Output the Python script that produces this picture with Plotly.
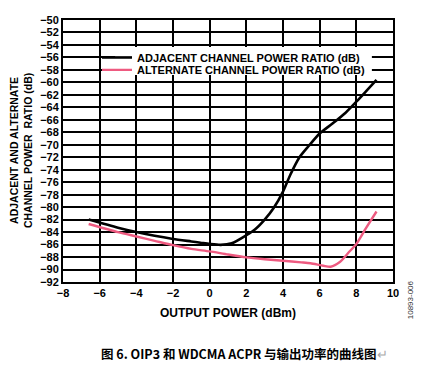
import plotly.graph_objects as go

# Data
adj_x = [-6.6, -5, -4, -3, -2, -1, -0.5, 0, 0.6, 1.2, 2, 2.5, 3, 3.5, 4, 4.4, 4.9, 5.4, 6, 6.7, 7.4, 8, 8.6, 9.1]
adj_y = [-82.0, -83.3, -84.0, -84.6, -85.1, -85.5, -85.7, -85.9, -86.05, -85.8, -84.5, -83.5, -82.0, -80.1,
         -77.5, -74.8, -72.0, -70.2, -68.2, -66.6, -64.9, -63.1, -61.2, -59.6]
alt_x = [-6.6, -5, -4, -3, -2, -1, 0, 1, 2, 3, 4, 5, 5.5, 6.2, 6.6, 7.1, 7.6, 8, 8.5, 9.1]
alt_y = [-82.7, -84.0, -84.7, -85.4, -86.1, -86.7, -87.1, -87.6, -88.05, -88.35, -88.6, -88.85, -89.0, -89.4,
         -89.55, -88.8, -87.2, -85.9, -83.5, -80.7]
x_ticks = [-8, -6, -4, -2, 0, 2, 4, 6, 8, 10]
y_ticks = list(range(-92, -49, 2))

series_names = ["ADJACENT CHANNEL POWER RATIO (dB)", "ALTERNATE CHANNEL POWER RATIO (dB)"]
x_title = "OUTPUT POWER (dBm)"
y_title = "ADJACENT AND ALTERNATE<br>CHANNEL POWER  RATIO (dB)"
caption = "图 6. OIP3 和 WDCMA ACPR 与输出功率的曲线图"
code = "10893-006"

FONT = "Liberation Sans, Arial, sans-serif"


def fmt(v):
    return str(v).replace("-", "\u2212")


fig = go.Figure()
fig.add_trace(go.Scatter(x=adj_x, y=adj_y, mode="lines", name=series_names[0], legend="legend",
                         line=dict(color="black", width=2.6, shape="spline", smoothing=0.7)))
fig.add_trace(go.Scatter(x=alt_x, y=alt_y, mode="lines", name=series_names[1], legend="legend2",
                         line=dict(color="#EE5A80", width=2.4, shape="spline", smoothing=0.7)))

axis_common = dict(showgrid=True, gridcolor="black", gridwidth=1.8,
                   showline=True, linecolor="black", linewidth=2, mirror=True,
                   zeroline=False, ticks="", automargin=False,
                   tickfont=dict(family=FONT, size=11, color="black", weight="bold"))

fig.update_xaxes(range=[-8, 10], tickvals=x_ticks, ticktext=[fmt(v) for v in x_ticks], **axis_common)
fig.update_yaxes(range=[-92, -50], tickvals=y_ticks, ticktext=[fmt(v) for v in y_ticks], **axis_common)

legend_font = dict(family=FONT, size=11, color="black", weight="bold")

# The page body has an 8px margin, so the figure is sized/offset to compensate
fig.update_layout(
    width=414, height=367,
    margin=dict(l=55, r=29, t=12, b=93),
    paper_bgcolor="white", plot_bgcolor="white",
    showlegend=True,
    legend=dict(x=0.103, y=0.857, xanchor="left", yanchor="middle",
                bgcolor="rgba(0,0,0,0)", borderwidth=0, font=legend_font),
    legend2=dict(x=0.103, y=0.8095, xanchor="left", yanchor="middle",
                 bgcolor="rgba(0,0,0,0)", borderwidth=0, font=legend_font),
    shapes=[
        # white background box behind the legend entries
        dict(type="rect", xref="paper", yref="paper", x0=0.158, x1=0.936, y0=0.79, y1=0.897,
             fillcolor="white", line=dict(width=0), layer="above"),
    ],
    annotations=[
        dict(text=y_title, x=-0.127, y=0.5, xref="paper", yref="paper", showarrow=False,
             textangle=-90, xanchor="center", yanchor="middle",
             font=dict(family=FONT, size=10.5, color="black", weight="bold")),
        dict(text=x_title, x=0.5, y=-0.117, xref="paper", yref="paper", showarrow=False,
             xanchor="center", yanchor="middle",
             font=dict(family=FONT, size=12, color="black", weight="bold")),
        dict(text=code, x=1.052, y=-0.069, xref="paper", yref="paper", showarrow=False,
             textangle=-90, xanchor="center", yanchor="middle",
             font=dict(family=FONT, size=8, color="#333333")),
        dict(text=caption + "<span style='color:#aaaaaa;font-weight:normal'>\u21b5</span>",
             x=0.55, y=-0.271, xref="paper", yref="paper", showarrow=False,
             xanchor="center", yanchor="middle",
             font=dict(family="Noto Sans CJK SC", size=12.5, color="black", weight="bold")),
    ],
)

fig.write_html("out.html")
